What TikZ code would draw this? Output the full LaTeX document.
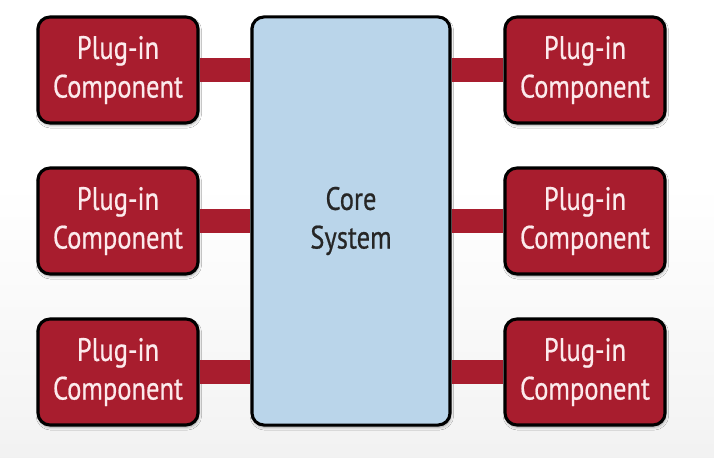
\documentclass[tikz,border=0pt]{standalone}
\usepackage{fontspec}
\setmainfont{PT Sans}[FakeStretch=0.82, FakeBold=0.6]
\usetikzlibrary{shadows.blur}
\definecolor{plugred}{RGB}{168,29,46}
\definecolor{coreblue}{RGB}{186,213,234}
\definecolor{plugtext}{RGB}{252,234,236}
\pgfdeclareverticalshading{bgfade}{100bp}{color(0bp)=(black!12); color(30bp)=(black!4); color(55bp)=(white); color(100bp)=(white)}
\tikzset{
  plugin/.style={draw=black, line width=2.2pt, rounded corners=0.3cm, fill=plugred,
    text=plugtext, align=center, minimum width=4.0cm, minimum height=2.65cm,
    font=\fontsize{23}{27.5}\selectfont,
    blur shadow={shadow blur steps=6, shadow xshift=0.6pt, shadow yshift=-1.6pt, shadow opacity=35}},
  coresys/.style={draw=black, line width=2.2pt, rounded corners=0.3cm, fill=coreblue,
    text=black!85, align=center, minimum width=4.95cm, minimum height=10.2cm,
    font=\fontsize{23}{27.5}\selectfont,
    blur shadow={shadow blur steps=6, shadow xshift=0.6pt, shadow yshift=-1.6pt, shadow opacity=35}},
  plugbar/.style={draw=plugred, line width=0.6cm}
}
\begin{document}
\begin{tikzpicture}[x=0.025cm, y=-0.025cm]
\useasboundingbox (0,0) rectangle (714,458);
\shade[shading=bgfade] (0,0) rectangle (714,458);
\node[coresys] (core) at (351,221) {Core\\System};
\node[plugin] (lefttop) at (118,70) {Plug-in\\Component};
\node[plugin] (leftmid) at (118,221) {Plug-in\\Component};
\node[plugin] (leftbottom) at (118,372) {Plug-in\\Component};
\node[plugin] (righttop) at (585,70) {Plug-in\\Component};
\node[plugin] (rightmid) at (585,221) {Plug-in\\Component};
\node[plugin] (rightbottom) at (585,372) {Plug-in\\Component};
\draw[plugbar] (lefttop.east) -- (lefttop.east -| core.west);
\draw[plugbar] (leftmid.east) -- (leftmid.east -| core.west);
\draw[plugbar] (leftbottom.east) -- (leftbottom.east -| core.west);
\draw[plugbar] (righttop.west) -- (righttop.west -| core.east);
\draw[plugbar] (rightmid.west) -- (rightmid.west -| core.east);
\draw[plugbar] (rightbottom.west) -- (rightbottom.west -| core.east);
\end{tikzpicture}
\end{document}
